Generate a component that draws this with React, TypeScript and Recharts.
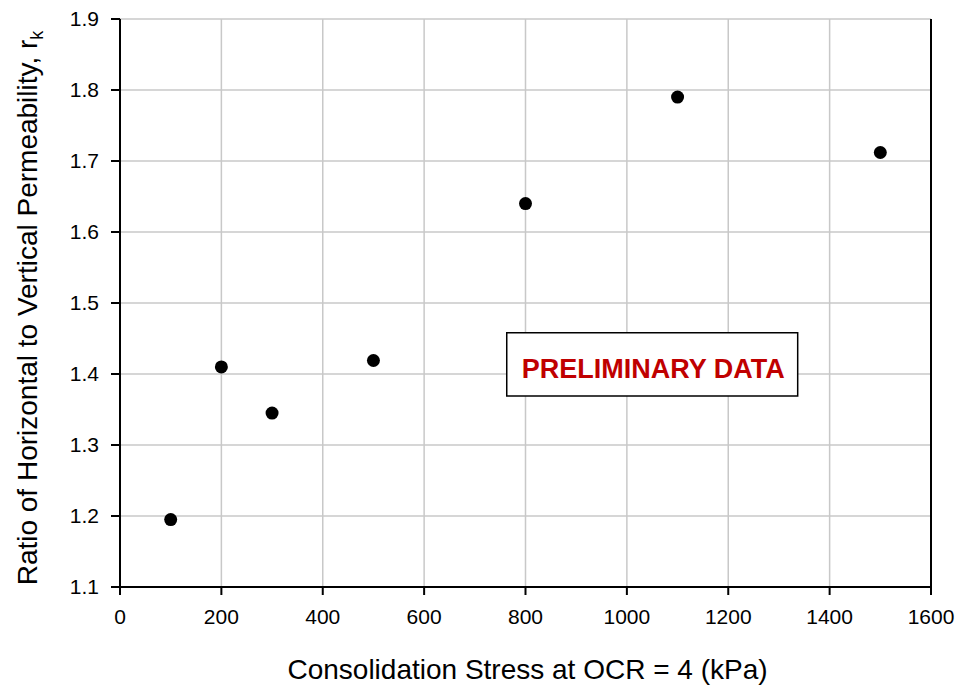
import React from "react";
import {
  ScatterChart,
  Scatter,
  XAxis,
  YAxis,
  CartesianGrid,
  ReferenceLine,
  ReferenceArea,
  Label,
} from "recharts";

const stress = [100, 200, 300, 500, 800, 1100, 1500];
const ratio = [1.195, 1.41, 1.345, 1.419, 1.64, 1.79, 1.712];
const xTicks = [0, 200, 400, 600, 800, 1000, 1200, 1400, 1600];
const yTicks = [1.1, 1.2, 1.3, 1.4, 1.5, 1.6, 1.7, 1.8, 1.9];

const points = stress.map((x, i) => ({ x, y: ratio[i] }));

const FONT = "'Liberation Sans', Arial, sans-serif";

// rotated y label with subscript k
function YLabel(props: any) {
  const { viewBox } = props;
  const cy = viewBox.y + viewBox.height / 2 + 5;
  const cx = 37;
  return (
    <text
      x={cx}
      y={cy}
      transform={`rotate(-90, ${cx}, ${cy})`}
      textAnchor="middle"
      fontFamily={FONT}
      fontSize={28}
      fill="#000"
    >
      Ratio of Horizontal to Vertical Permeability, r
      <tspan fontSize={18} dy={6}>k</tspan>
    </text>
  );
}

function XLabel(props: any) {
  const { viewBox } = props;
  return (
    <text
      x={viewBox.x + viewBox.width / 2 + 2}
      y={679}
      textAnchor="middle"
      fontFamily={FONT}
      fontSize={28}
      fill="#000"
    >
      Consolidation Stress at OCR = 4 (kPa)
    </text>
  );
}

function NoteLabel(props: any) {
  const { viewBox } = props;
  return (
    <text
      x={viewBox.x + viewBox.width / 2 + 1}
      y={viewBox.y + 45}
      textAnchor="middle"
      fontFamily={FONT}
      fontSize={27}
      fontWeight="bold"
      fill="#c00000"
    >
      PRELIMINARY DATA
    </text>
  );
}

export default function App() {
  return (
    <div style={{ position: "absolute", left: 0, top: 0, background: "#fff" }}>
      <ScatterChart
        width={961}
        height={686}
        margin={{ top: 19, right: 30, left: 0, bottom: 0 }}
      >
        <CartesianGrid stroke="#c8c8c8" strokeWidth={1.5} />
        <XAxis
          type="number"
          dataKey="x"
          domain={[0, 1600]}
          ticks={xTicks}
          interval={0}
          height={99}
          stroke="#000"
          strokeWidth={2}
          tickSize={8}
          tickMargin={14}
          tick={{ fill: "#000", fontSize: 21, fontFamily: FONT }}
        >
          <Label content={<XLabel />} />
        </XAxis>
        <YAxis
          type="number"
          dataKey="y"
          domain={[1.1, 1.9]}
          ticks={yTicks}
          interval={0}
          width={120}
          stroke="#000"
          strokeWidth={2}
          tickSize={9}
          tickMargin={12}
          tickFormatter={(v: number) => v.toFixed(1)}
          tick={{ fill: "#000", fontSize: 21, fontFamily: FONT }}
        >
          <Label content={<YLabel />} />
        </YAxis>
        <ReferenceLine x={1600} stroke="#000" strokeWidth={2} />
        <ReferenceArea
          x1={763}
          x2={1337}
          y1={1.458}
          y2={1.369}
          fill="#fff"
          fillOpacity={1}
          stroke="#000"
          strokeWidth={1.5}
          label={<NoteLabel />}
        />
        <Scatter
          data={points}
          fill="#000"
          isAnimationActive={false}
          shape={(p: any) => <circle cx={p.cx} cy={p.cy} r={6.5} fill="#000" />}
        />
      </ScatterChart>
    </div>
  );
}
